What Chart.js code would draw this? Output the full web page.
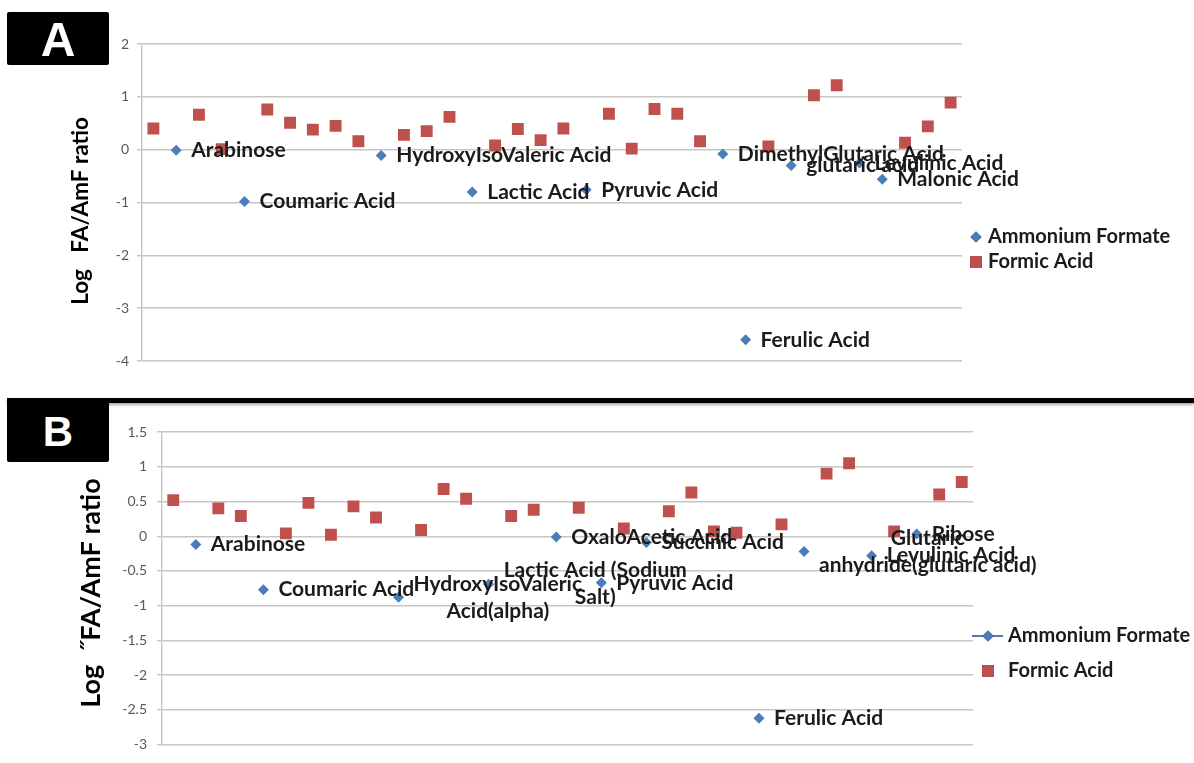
<!DOCTYPE html>
<html>
<head>
<meta charset="utf-8">
<title>FA / AmF ratio</title>
<script src="https://cdn.jsdelivr.net/npm/chart.js"></script>
<style>
  body { margin: 0; background: #fff; width: 1194px; height: 763px; position: relative; overflow: hidden; }
  .tag { position: absolute; left: 7px; width: 102px; background: #000; color: #fff; text-align: center;
         font-family: "Liberation Sans", Arial, sans-serif; font-weight: bold; border-radius: 2px; z-index: 3; }
  #tagA { top: 12px; height: 53px; line-height: 55px; font-size: 48px; }
  #tagB { top: 400px; height: 62px; line-height: 64px; font-size: 42px; }
  #rule { position: absolute; left: 7px; right: 0; top: 398px; height: 5px; background: #000;
          box-shadow: 0 2px 3px rgba(0,0,0,0.35); z-index: 2; }
  .panel { position: absolute; left: 0; }
</style>
</head>
<body>
<div class="tag" id="tagA">A</div>
<div id="rule"></div>
<div class="tag" id="tagB">B</div>
<canvas class="panel" id="chartA" width="1194" height="395" style="top:0"></canvas>
<canvas class="panel" id="chartB" width="1194" height="358" style="top:405px"></canvas>
<script>
// run order of the 36 injections (x axis is not labelled)
const samples = ['1','2','3','4','5','6','7','8','9','10','11','12','13','14','15','16','17','18',
                 '19','20','21','22','23','24','25','26','27','28','29','30','31','32','33','34','35','36'];

// panel A: log10 response ratio, ammonium formate vs formic acid mobile phase
const amfA = [null, -0.01, null, null, -0.98, null, null, null, null, null, -0.11, null,
              null, null, -0.80, null, null, null, null, -0.76, null, null, null, null,
              null, -0.08, -3.60, null, -0.30, null, null, -0.25, -0.56, null, null, null];
const faA = [0.40, null, 0.66, 0.01, null, 0.76, 0.51, 0.38, 0.45, 0.16, null, 0.28,
             0.35, 0.62, null, 0.08, 0.39, 0.18, 0.40, null, 0.68, 0.02, 0.77, 0.68,
             0.16, null, null, 0.06, null, 1.03, 1.22, null, null, 0.13, 0.44, 0.89];
const namesA = [null, 'Arabinose', null, null, 'Coumaric Acid', null, null, null, null, null,
                'HydroxyIsoValeric Acid', null, null, null, 'Lactic Acid', null, null, null, null,
                'Pyruvic Acid', null, null, null, null, null, 'DimethylGlutaric Acid', 'Ferulic Acid',
                null, 'glutaric acid', null, null, 'Levulinic Acid', 'Malonic Acid', null, null, null];

// panel B
const amfB = [null, -0.12, null, null, -0.77, null, null, null, null, null, -0.88, null,
              null, null, -0.69, null, null, -0.01, null, -0.67, null, -0.09, null, null,
              null, null, -2.62, null, -0.22, null, null, -0.28, null, 0.03, null, null];
const faB = [0.52, null, 0.40, 0.29, null, 0.04, 0.48, 0.02, 0.43, 0.27, null, 0.09,
             0.68, 0.54, null, 0.29, 0.38, null, 0.41, null, 0.11, null, 0.36, 0.63,
             0.07, 0.05, null, 0.17, null, 0.90, 1.05, null, 0.07, null, 0.60, 0.78];
const namesB = [null, 'Arabinose', null, null, 'Coumaric Acid', null, null, null, null, null,
                'HydroxyIsoValeric\nAcid(alpha)', null, null, null, 'Lactic Acid (Sodium\nSalt)', null, null,
                'OxaloAcetic Acid', null, 'Pyruvic Acid', null, 'Succinic Acid', null, null, null, null,
                'Ferulic Acid', null, 'Glutaric\nanhydride(glutaric acid)', null, null, 'Levulinic Acid',
                null, 'Ribose', null, null];

const ticksA = { min: -4, max: 2, step: 1 };
const ticksB = { min: -3, max: 1.5, step: 0.5 };

const BLUE = '#4a7ebb';
const RED = '#c0504d';
const FONT = 'Lato, "Open Sans", sans-serif';

// compound names written to the right of each ammonium formate point
const pointNotes = {
  id: 'pointNotes',
  afterDatasetsDraw(chart, args, opts) {
    const ctx = chart.ctx;
    const meta = chart.getDatasetMeta(0);
    ctx.save();
    ctx.font = 'bold ' + opts.size + 'px ' + FONT;
    ctx.fillStyle = '#1b1b1b';
    ctx.textBaseline = 'middle';
    ctx.textAlign = 'center';
    opts.names.forEach((name, i) => {
      const pt = meta.data[i];
      if (!name || !pt || chart.data.datasets[0].data[i] == null) return;
      const lines = name.split('\n');
      const w = Math.max(...lines.map(l => ctx.measureText(l).width));
      const cx = pt.x + opts.gap + w / 2;
      lines.forEach((l, k) => {
        ctx.fillText(l, cx, pt.y + (k - (lines.length - 1) / 2) * opts.lineGap);
      });
    });
    ctx.restore();
  }
};

const sideLegend = {
  id: 'sideLegend',
  afterDraw(chart, args, opts) {
    const ctx = chart.ctx;
    ctx.save();
    ctx.font = 'bold ' + opts.size + 'px ' + FONT;
    ctx.textBaseline = 'middle';
    opts.items.forEach(it => {
      const ds = chart.data.datasets[it.dataset];
      if (it.line) {
        ctx.strokeStyle = ds.borderColor;
        ctx.lineWidth = 2;
        ctx.beginPath();
        ctx.moveTo(it.mx - 16, it.y);
        ctx.lineTo(it.mx + 15, it.y);
        ctx.stroke();
      }
      Chart.helpers.drawPoint(ctx, {
        pointStyle: ds.pointStyle, radius: ds.pointRadius, borderWidth: 0, rotation: 0
      }, it.mx, it.y);
      ctx.fillStyle = ds.pointBackgroundColor;
      ctx.fill();
      ctx.fillStyle = '#1b1b1b';
      ctx.fillText(ds.label, it.tx, it.y);
    });
    ctx.restore();
  }
};

const axisCaption = {
  id: 'axisCaption',
  afterDraw(chart, args, opts) {
    const ctx = chart.ctx;
    ctx.save();
    ctx.translate(opts.x, opts.y);
    ctx.rotate(-Math.PI / 2);
    ctx.font = 'bold ' + opts.size + 'px ' + FONT;
    ctx.fillStyle = '#000';
    ctx.textAlign = 'center';
    ctx.textBaseline = 'middle';
    ctx.fillText(opts.text, 0, 0);
    ctx.restore();
  }
};

function makePanel(id, p) {
  return new Chart(document.getElementById(id), {
    type: 'line',
    data: {
      labels: samples,
      datasets: [
        { label: 'Ammonium Formate', data: p.amf, showLine: false, borderColor: BLUE,
          pointStyle: 'rectRot', pointRadius: 5.5, pointBorderWidth: 0,
          pointBackgroundColor: BLUE, pointHoverRadius: 5.5 },
        { label: 'Formic Acid', data: p.fa, showLine: false, borderColor: RED,
          pointStyle: 'rect', pointRadius: 8.4, pointBorderWidth: 0,
          pointBackgroundColor: RED, pointHoverRadius: 8.4 }
      ]
    },
    options: {
      responsive: false,
      animation: false,
      events: [],
      layout: { padding: p.pad },
      plugins: {
        legend: { display: false },
        tooltip: { enabled: false },
        pointNotes: { names: p.names, size: 21, gap: 15, lineGap: 27 },
        sideLegend: p.legend,
        axisCaption: p.caption
      },
      scales: {
        x: { display: false, offset: true },
        y: {
          min: p.ticks.min, max: p.ticks.max,
          afterFit: s => { s.width = p.axisWidth; },
          ticks: { stepSize: p.ticks.step, callback: v => String(v), color: '#595959',
                   font: { family: FONT, size: 14 }, padding: p.tickPad },
          grid: { color: '#c6c6c6', lineWidth: 1.4, tickLength: 5 },
          border: { color: '#c6c6c6', width: 1.4 }
        }
      }
    },
    plugins: [pointNotes, sideLegend, axisCaption]
  });
}

makePanel('chartA', {
  amf: amfA, fa: faA, names: namesA, ticks: ticksA,
  pad: { left: 0, top: 44, right: 232, bottom: 34 },
  axisWidth: 142, tickPad: 8,
  caption: { text: 'Log   FA/AmF ratio', x: 81, y: 211, size: 22.5 },
  legend: { size: 20, items: [
    { dataset: 0, mx: 976, tx: 988, y: 237 },
    { dataset: 1, mx: 976, tx: 988, y: 262 }
  ] }
});

makePanel('chartB', {
  amf: amfB, fa: faB, names: namesB, ticks: ticksB,
  pad: { left: 0, top: 27, right: 221, bottom: 6 },
  axisWidth: 162, tickPad: 10,
  caption: { text: 'Log  \u02DDFA/AmF ratio', x: 91, y: 188, size: 27 },
  legend: { size: 20, items: [
    { dataset: 0, mx: 988, tx: 1008, y: 231, line: true },
    { dataset: 1, mx: 988, tx: 1008, y: 266 }
  ] }
});
</script>
</body>
</html>
